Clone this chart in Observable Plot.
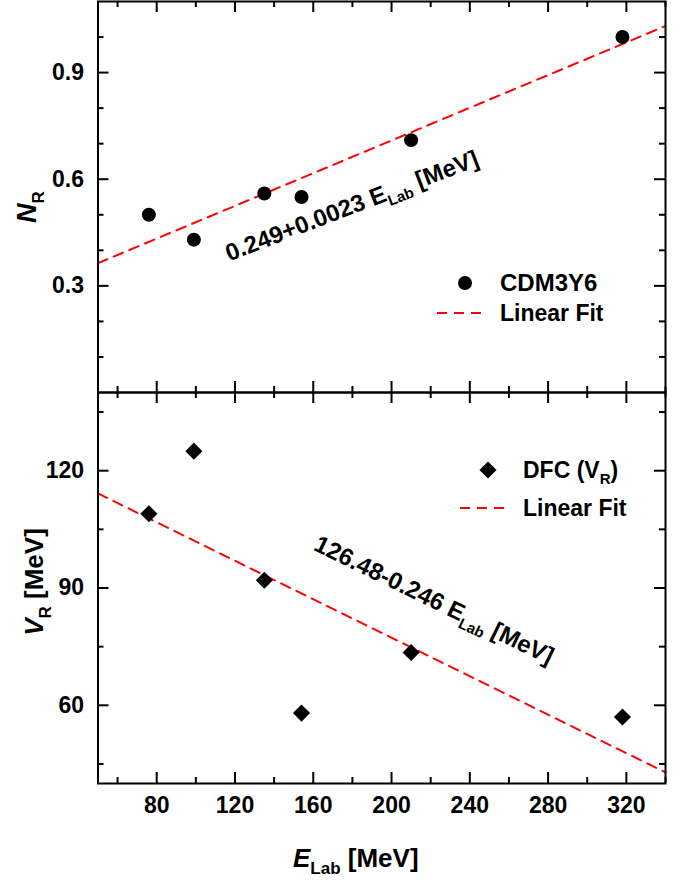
<!DOCTYPE html>
<html>
<head>
<meta charset="utf-8">
<script src="https://cdn.jsdelivr.net/npm/d3@7"></script>
<script src="https://cdn.jsdelivr.net/npm/@observablehq/plot@0.6"></script>
<style>
  html, body { margin: 0; padding: 0; background: #fff; }
  #chart { position: relative; width: 687px; height: 882px; overflow: hidden; }
  #chart svg { position: absolute; left: 0; }
  text, tspan { white-space: pre; }
</style>
</head>
<body>
<div id="chart"></div>
<script>
// ---------- data ----------
const energies = [76, 99, 135, 154, 210, 318];          // E_Lab [MeV]
const nR       = [0.50, 0.43, 0.56, 0.55, 0.71, 1.00];   // CDM3Y6 N_R
const vR       = [109, 125, 92, 58, 73.5, 57];           // DFC V_R [MeV]
const fitRange = [50, 340];                              // x extent of fit lines
const nFitCoef = [0.249, 0.0023];                        // 0.249 + 0.0023 E
const vFitCoef = [126.48, -0.246];                       // 126.48 - 0.246 E
const xMajor = [80, 120, 160, 200, 240, 280, 320];
const xMinor = [60, 100, 140, 180, 220, 260, 300, 340];
const nMajor = [0.3, 0.6, 0.9];
const nMinor = [0.1, 0.2, 0.4, 0.5, 0.7, 0.8, 1.0];
const vMajor = [60, 90, 120];
const vMinor = [45, 75, 105, 135];
const xDomain = [50, 340];
const nDomain = [0, 1.1];
const vDomain = [40, 140];

const topData = energies.map((E, i) => ({E, v: nR[i]}));
const botData = energies.map((E, i) => ({E, v: vR[i]}));
const topFit = fitRange.map(E => ({E, v: nFitCoef[0] + nFitCoef[1] * E}));
const botFit = fitRange.map(E => ({E, v: vFitCoef[0] + vFitCoef[1] * E}));

// ---------- layout ----------
const FONT = "'Liberation Sans', Arial, Helvetica, sans-serif";
const W = 687, ML = 97.5, MR = 22;
const INNER_W = W - ML - MR;
const INNER_H = 391;
const MAJOR = 11, MINOR = 6;
const RED = "#ff0000";
const TICK_FS = 23;
const ink = {stroke: "black", strokeWidth: 2};
const style = {fontFamily: FONT, fontWeight: "bold", fontSize: TICK_FS + "px", color: "black", background: "transparent", overflow: "visible"};

function boxTicks(yMajor, yMinor) {
  return [
    Plot.tickX(xMajor, {x: d => d, insetTop: INNER_H - MAJOR, ...ink}),
    Plot.tickX(xMajor, {x: d => d, insetBottom: INNER_H - MAJOR, ...ink}),
    Plot.tickX(xMinor, {x: d => d, insetTop: INNER_H - MINOR, ...ink}),
    Plot.tickX(xMinor, {x: d => d, insetBottom: INNER_H - MINOR, ...ink}),
    Plot.tickY(yMajor, {y: d => d, insetRight: INNER_W - MAJOR, ...ink}),
    Plot.tickY(yMajor, {y: d => d, insetLeft: INNER_W - MAJOR, ...ink}),
    Plot.tickY(yMinor, {y: d => d, insetRight: INNER_W - MINOR, ...ink}),
    Plot.tickY(yMinor, {y: d => d, insetLeft: INNER_W - MINOR, ...ink}),
    Plot.frame(ink)
  ];
}

const topPlot = Plot.plot({
  width: W, height: 393,
  marginLeft: ML, marginRight: MR, marginTop: 1, marginBottom: 1,
  x: {domain: xDomain, axis: null},
  y: {domain: nDomain},
  style,
  marks: [
    Plot.line(topFit, {x: "E", y: "v", stroke: RED, strokeWidth: 2, strokeDasharray: "10,7"}),
    Plot.dot(topData, {x: "E", y: "v", r: 7, fill: "black", symbol: "circle"}),
    ...boxTicks(nMajor, nMinor),
    Plot.axisY({ticks: nMajor, tickSize: 0, tickPadding: 14, label: null, fontSize: TICK_FS, tickFormat: d => String(d)})
  ]
});

const botPlot = Plot.plot({
  width: W, height: 491,
  marginLeft: ML, marginRight: MR, marginTop: 1, marginBottom: 99,
  x: {domain: xDomain},
  y: {domain: vDomain},
  style,
  marks: [
    Plot.line(botFit, {x: "E", y: "v", stroke: RED, strokeWidth: 2, strokeDasharray: "10,7"}),
    Plot.dot(botData, {x: "E", y: "v", r: 7.7, fill: "black", symbol: "diamond2"}),
    ...boxTicks(vMajor, vMinor),
    Plot.axisY({ticks: vMajor, tickSize: 0, tickPadding: 14, label: null, fontSize: TICK_FS, tickFormat: d => String(d)}),
    Plot.axisX({ticks: xMajor, tickSize: 0, tickPadding: 13, label: null, fontSize: TICK_FS, tickFormat: d => String(d)})
  ]
});

const chart = document.getElementById("chart");
topPlot.style.top = "0px";
botPlot.style.top = "391px";
chart.appendChild(topPlot);
chart.appendChild(botPlot);

// ---------- rich text helpers ----------
function rich(svg, {x, y, rotate = 0, anchor = "start", dy = 0, parts}) {
  const t = d3.select(svg).append("text")
    .attr("transform", `translate(${x},${y}) rotate(${rotate})`)
    .attr("y", dy)
    .attr("text-anchor", anchor)
    .attr("font-family", FONT)
    .attr("font-weight", "bold")
    .attr("fill", "black");
  let shift = 0;
  for (const p of parts) {
    const ts = t.append("tspan").text(p.t).attr("font-size", p.size);
    if (p.italic) ts.attr("font-style", "italic");
    const s = p.sub || 0;
    if (s !== shift) { ts.attr("dy", s - shift); shift = s; }
  }
  return t;
}

// ---------- axis titles ----------
rich(topPlot, {x: 36, y: 207, rotate: -90, anchor: "middle", parts: [
  {t: "N", size: 27, italic: true}, {t: "R", size: 17, sub: 8}
]});
rich(botPlot, {x: 43, y: 582 - 391, rotate: -90, anchor: "middle", parts: [
  {t: "V", size: 26, italic: true}, {t: "R", size: 17, sub: 8}, {t: " [MeV]", size: 26}
]});
rich(botPlot, {x: 293, y: 867 - 391, parts: [
  {t: "E", size: 26, italic: true}, {t: "Lab", size: 17, sub: 7}, {t: " [MeV]", size: 26}
]});

// ---------- fit annotations ----------
{
  const sx = topPlot.scale("x"), sy = topPlot.scale("y");
  rich(topPlot, {x: sx.apply(180), y: sy.apply(0.524), rotate: -21, anchor: "middle", dy: 8, parts: [
    {t: "0.249+0.0023 E", size: 24}, {t: "Lab", size: 15, sub: 6}, {t: " [MeV]", size: 24}
  ]});
}
{
  const sx = botPlot.scale("x"), sy = botPlot.scale("y");
  rich(botPlot, {x: sx.apply(222), y: sy.apply(86.8), rotate: 26, anchor: "middle", dy: 8, parts: [
    {t: "126.48-0.246 E", size: 24}, {t: "Lab", size: 15, sub: 6}, {t: " [MeV]", size: 24}
  ]});
}

// ---------- legends ----------
{
  const g = d3.select(topPlot).append("g");
  g.append("circle").attr("cx", 465).attr("cy", 283).attr("r", 7).attr("fill", "black");
  g.append("line").attr("x1", 437).attr("x2", 485).attr("y1", 313).attr("y2", 313)
    .attr("stroke", RED).attr("stroke-width", 2).attr("stroke-dasharray", "10,7");
  rich(topPlot, {x: 500, y: 291, parts: [{t: "CDM3Y6", size: 24}]});
  rich(topPlot, {x: 500, y: 321, parts: [{t: "Linear Fit", size: 23}]});
}
{
  const g = d3.select(botPlot).append("g");
  const cy = 470 - 391, ly = 508 - 391;
  g.append("path").attr("d", d3.symbol(d3.symbolDiamond2, Math.PI * 7.7 * 7.7)())
    .attr("transform", `translate(488,${cy})`).attr("fill", "black");
  g.append("line").attr("x1", 460).attr("x2", 508).attr("y1", ly).attr("y2", ly)
    .attr("stroke", RED).attr("stroke-width", 2).attr("stroke-dasharray", "10,7");
  rich(botPlot, {x: 523, y: cy + 8, parts: [
    {t: "DFC (V", size: 23}, {t: "R", size: 15, sub: 6}, {t: ")", size: 23}
  ]});
  rich(botPlot, {x: 523, y: ly + 8, parts: [{t: "Linear Fit", size: 23}]});
}
</script>
</body>
</html>
